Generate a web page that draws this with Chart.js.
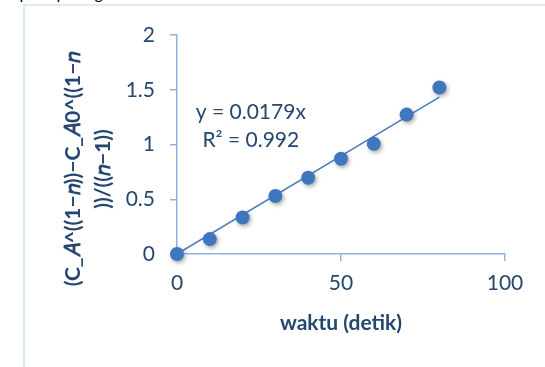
<!DOCTYPE html>
<html>
<head>
<meta charset="utf-8">
<script src="https://cdn.jsdelivr.net/npm/chart.js@4.4.1/dist/chart.umd.min.js"></script>
<style>
  html, body { margin: 0; padding: 0; background: #ffffff; }
  #wrap { position: relative; width: 545px; height: 367px; overflow: hidden; }
  #cap { position: absolute; left: 4px; top: -17px; font: 16px Lato, "Liberation Sans", sans-serif; color: #000; white-space: nowrap; }
  canvas { position: absolute; left: 0; top: 0; }
</style>
</head>
<body>
<div id="wrap">
  <div id="cap">seperti pada gambar di bawah ini</div>
  <canvas id="c" width="545" height="367"></canvas>
</div>
<script>
// Waktu (detik) dan nilai (C_A^(1-n) - C_A0^(1-n)) / (n-1)
const waktu = [0, 10, 20, 30, 40, 50, 60, 70, 80];
const nilai = [0, 0.136, 0.334, 0.53, 0.697, 0.87, 1.006, 1.273, 1.52];

// Garis tren linear melalui titik nol
const slope = 0.0179;
const r2 = 0.992;
const trendX = [0, 80];

const xTicks = [0, 50, 100];
const yTicks = [0, 0.5, 1, 1.5, 2];
const yTickLabels = ['0', '0.5', '1', '1.5', '2'];

const yTitle = ['(C_𝐴^((1−𝑛))−C_𝐴0^((1−𝑛', '))/((𝑛−1))'];
const xTitle = 'waktu (detik)';

const textColor = '#25476f';
const axisColor = '#8db3e2';
const markColor = '#3f77bf';
const fontFam = 'Lato, "Liberation Sans", sans-serif';

const points = waktu.map((x, i) => ({ x: x, y: nilai[i] }));
const trend = trendX.map(x => ({ x: x, y: slope * x }));

const decor = {
  id: 'decor',
  beforeDraw(chart) {
    const ctx = chart.ctx;
    ctx.save();
    ctx.strokeStyle = '#d6e2f3';
    ctx.lineWidth = 1.5;
    ctx.beginPath();
    ctx.moveTo(24, 367);
    ctx.lineTo(24, 5);
    ctx.lineTo(545, 5);
    ctx.stroke();
    ctx.restore();
  },
  afterDraw(chart) {
    const ctx = chart.ctx;
    const xs = chart.scales.x;
    ctx.save();
    ctx.fillStyle = textColor;
    ctx.textAlign = 'center';
    ctx.textBaseline = 'middle';
    // judul sumbu x
    ctx.font = 'bold 21px ' + fontFam;
    ctx.fillText(xTitle, (xs.left + xs.right) / 2, 323);
    // judul sumbu y (diputar)
    ctx.save();
    ctx.translate(88, 169);
    ctx.rotate(-Math.PI / 2);
    ctx.font = 'bold 21px ' + fontFam;
    ctx.fillText(yTitle[0], 0, -15);
    ctx.fillText(yTitle[1], 0, 15);
    ctx.restore();
    // persamaan garis tren
    ctx.font = '21px ' + fontFam;
    const lx = xs.getPixelForValue(22.5);
    ctx.fillText('y = ' + slope + 'x', lx, 112);
    ctx.fillText('R² = ' + r2, lx, 140);
    ctx.restore();
  }
};

const shadow = {
  id: 'shadow',
  beforeDatasetDraw(chart, args) {
    if (args.index === 1) {
      const ctx = chart.ctx;
      ctx.save();
      ctx.shadowColor = 'rgba(0,0,0,0.35)';
      ctx.shadowBlur = 4;
      ctx.shadowOffsetX = 1.5;
      ctx.shadowOffsetY = 2;
    }
  },
  afterDatasetDraw(chart, args) {
    if (args.index === 1) chart.ctx.restore();
  }
};

new Chart(document.getElementById('c'), {
  type: 'scatter',
  data: {
    datasets: [
      {
        type: 'line',
        data: trend,
        borderColor: '#4a7ebb',
        borderWidth: 1.5,
        pointRadius: 0,
        fill: false,
        clip: false,
        order: 2
      },
      {
        data: points,
        backgroundColor: markColor,
        borderColor: markColor,
        pointRadius: 7,
        pointBorderWidth: 0,
        clip: false,
        order: 1
      }
    ]
  },
  options: {
    responsive: false,
    animation: false,
    events: [],
    layout: { padding: { top: 35, right: 40, left: 0, bottom: 0 } },
    plugins: { legend: { display: false }, tooltip: { enabled: false } },
    scales: {
      x: {
        type: 'linear',
        min: 0, max: 100,
        afterBuildTicks(s) { s.ticks = xTicks.map(v => ({ value: v })); },
        afterFit(s) { s.height = 113; },
        border: { color: axisColor, width: 1.5 },
        grid: { drawOnChartArea: false, drawTicks: true, tickLength: 7, color: axisColor, lineWidth: 1.5 },
        ticks: { color: textColor, font: { family: fontFam, size: 21 }, padding: 10, maxRotation: 0 }
      },
      y: {
        type: 'linear',
        min: 0, max: 2,
        afterBuildTicks(s) { s.ticks = yTicks.map(v => ({ value: v })); },
        afterFit(s) { s.width = 177; },
        border: { color: axisColor, width: 1.5 },
        grid: { drawOnChartArea: false, drawTicks: true, tickLength: 7, color: axisColor, lineWidth: 1.5 },
        ticks: {
          color: textColor,
          font: { family: fontFam, size: 21 },
          padding: 15,
          callback: (v) => { const i = yTicks.indexOf(v); return i >= 0 ? yTickLabels[i] : ''; }
        }
      }
    }
  },
  plugins: [decor, shadow]
});
</script>
</body>
</html>
